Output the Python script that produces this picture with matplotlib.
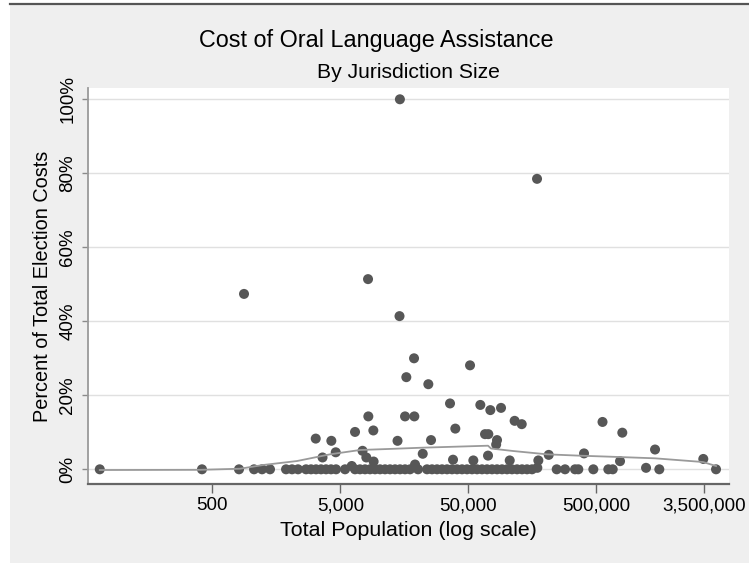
import matplotlib
matplotlib.use("Agg")
import matplotlib.pyplot as plt
from matplotlib.patches import Rectangle
from matplotlib.lines import Line2D

plt.rcParams['font.family'] = ['Liberation Sans', 'DejaVu Sans']

# Jurisdictions with a measurable oral-assistance cost share (population, % of costs)
pop_with_cost = [14600, 172100, 884, 8230, 14500, 18830, 51560, 16390, 24350,
                 35970, 62050, 74290, 90050, 8276, 16015, 18930, 115000, 130700,
                 559000, 39570, 798000, 6513, 9054, 67520, 71660, 3212, 4253,
                 13990, 25560, 83790, 82500, 1438000, 7454, 4603, 22020, 400800,
                 212400, 71260, 3629, 7982, 37970, 54710, 105300, 176200, 766000,
                 3426000, 9100, 6138, 19170, 173000, 1223000]
pct_with_cost = [100.0, 78.5, 47.4, 51.4, 41.4, 30.0, 28.1, 24.9, 23.0,
                 17.8, 17.4, 16.0, 16.6, 14.3, 14.3, 14.3, 13.1, 12.2,
                 12.8, 11.0, 9.9, 10.1, 10.5, 9.5, 9.5, 8.3, 7.7,
                 7.7, 7.9, 7.9, 6.7, 5.35, 5.0, 4.6, 4.2, 4.3,
                 3.9, 3.7, 3.2, 3.2, 2.6, 2.4, 2.4, 2.4, 2.2,
                 2.8, 2.1, 0.9, 1.3, 0.4, 0.4]

# Jurisdictions reporting no oral-assistance cost
pop_no_cost = [66, 415, 808, 1059, 1223, 1411, 1883, 2097, 2336, 2698, 2952,
               3229, 3533, 3866, 4229, 4627, 5441, 6513, 7125, 7798, 8531, 9335,
               10213, 11174, 12229, 13378, 14637, 16015, 17521, 20230, 23780,
               26020, 28480, 31160, 34090, 37300, 40800, 44640, 48840, 53440,
               58480, 63970, 70000, 76590, 83790, 91680, 100300, 109700, 120100,
               131400, 143700, 157300, 245200, 284800, 340900, 361700, 473800,
               620600, 671700, 1553000, 4308000]
pct_no_cost = [0.0] * len(pop_no_cost)

# Smoothed trend of cost share against population
trend_pop = [66, 401, 823, 1245, 2295, 4155, 7125, 11800, 21740, 39370, 71260,
             75220, 111700, 205900, 373000, 640000, 1438000, 3408000, 4308000]
trend_pct = [-0.19, -0.14, 0.16, 1.16, 2.24, 4.05, 5.22, 5.49, 5.84, 6.11, 6.38,
             5.62, 4.95, 4.05, 3.68, 3.41, 2.97, 1.97, 0.89]

xtick_values = [500, 5000, 50000, 500000, 3500000]
xtick_labels = ['500', '5,000', '50,000', '500,000', '3,500,000']
ytick_values = [0, 20, 40, 60, 80, 100]
ytick_labels = ['0%', '20%', '40%', '60%', '80%', '100%']

W, H = 749, 566
fig = plt.figure(figsize=(W / 100, H / 100), dpi=100, facecolor='white')

def fx(px):
    return px / W

def fy(py):
    return 1 - py / H

# outer graph region, kept behind the axes
bg = Rectangle((fx(10), fy(563)), fx(749) - fx(10), fy(4) - fy(563),
               transform=fig.transFigure, facecolor='#efefef', edgecolor='none')
bg.set_zorder(-10)
fig.add_artist(bg)
topline = Line2D([fx(10), fx(749)], [fy(3.5), fy(3.5)], transform=fig.transFigure,
                 color='#555555', lw=1.6)
topline.set_zorder(-9)
fig.add_artist(topline)

ax = fig.add_axes([fx(88), fy(484), fx(729) - fx(88), fy(88) - fy(484)])
ax.set_zorder(1)
ax.set_facecolor('white')
ax.set_xscale('log')
ax.set_xlim(53.4, 5.44e6)
ax.set_ylim(-3.97, 103.05)

for v in ytick_values:
    ax.axhline(v, color='#e0e0e0', lw=1.0, zorder=0)

dot_color = '#575757'
ax.scatter(pop_no_cost, pct_no_cost, s=52, color=dot_color, edgecolors='none', zorder=2)
ax.scatter(pop_with_cost, pct_with_cost, s=52, color=dot_color, edgecolors='none', zorder=2)
ax.plot(trend_pop, trend_pct, color='#9a9a9a', lw=1.3, zorder=3)

ax.xaxis.set_major_locator(plt.FixedLocator(xtick_values))
ax.xaxis.set_major_formatter(plt.FixedFormatter(xtick_labels))
ax.xaxis.set_minor_locator(plt.NullLocator())
ax.yaxis.set_major_locator(plt.FixedLocator(ytick_values))
ax.yaxis.set_major_formatter(plt.FixedFormatter(ytick_labels))

for side in ('top', 'right'):
    ax.spines[side].set_visible(False)
ax.spines['left'].set_color('#9a9a9a')
ax.spines['left'].set_linewidth(1.3)
ax.spines['bottom'].set_color('#666666')
ax.spines['bottom'].set_linewidth(1.6)

ax.tick_params(axis='x', length=6.5, width=1.0, color='#666666', pad=3,
               labelsize=13.5, labelcolor='black')
ax.tick_params(axis='y', length=4.5, width=1.0, color='#8a8a8a', pad=4,
               labelsize=13.5, labelcolor='black')
for lab in ax.get_yticklabels():
    lab.set_rotation(90)
    lab.set_va('center')

fig.text(fx(376), fy(40), 'Cost of Oral Language Assistance', ha='center', va='center',
         fontsize=16.8, color='black')
fig.text(fx(408), fy(72), 'By Jurisdiction Size', ha='center', va='center',
         fontsize=15.2, color='black')
fig.text(fx(408), fy(531), 'Total Population (log scale)', ha='center', va='center',
         fontsize=15.4, color='black')
fig.text(fx(43), fy(286), 'Percent of Total Election Costs', ha='center', va='center',
         rotation=90, fontsize=14.3, color='black')

fig.savefig('out.png', dpi=100, facecolor=fig.get_facecolor())
